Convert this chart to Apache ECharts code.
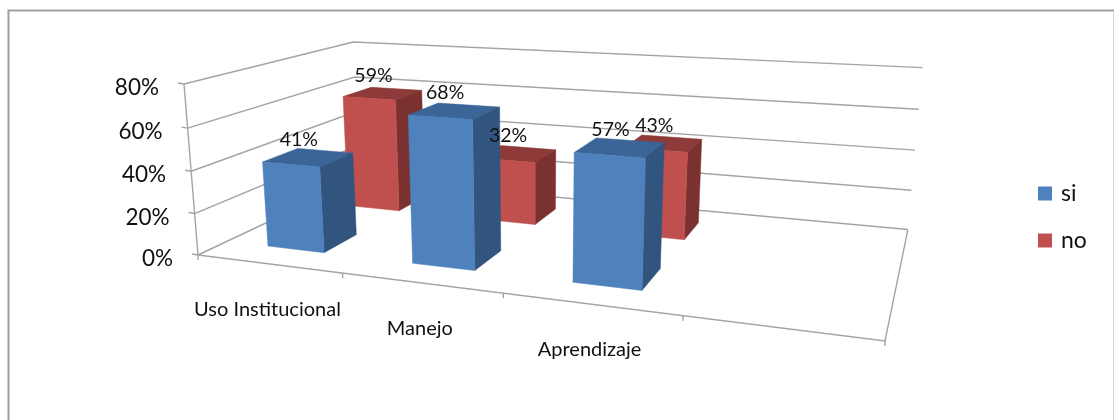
<!DOCTYPE html>
<html><head><meta charset="utf-8">
<style>html,body{margin:0;padding:0;background:#fff}#c{width:1114px;height:420px}</style>
<script src="https://cdn.jsdelivr.net/npm/echarts@6/dist/echarts.min.js"></script>
</head><body><div id="c"></div>
<script>
const categories = ['Uso Institucional', 'Manejo', 'Aprendizaje', ''];
const si = [41, 68, 57, null];
const no = [59, 32, 43, null];
const yTicks = [0, 20, 40, 60, 80];

// Projective map of the unit box onto the page
const A = [198, 255], X = [885, 341], Y = [359, 179], Z = [184, 84];
const a = 0.8, b = 1.26, c = 0.96;
function project(u, v, w) {
  const d = 1 + u * (a - 1) + v * (b - 1) + w * (c - 1);
  return [0, 1].map(i => (A[i] + u * (a * X[i] - A[i]) + v * (b * Y[i] - A[i]) + w * (c * Z[i] - A[i])) / d);
}
const GRID = { left: 100, top: 50, width: 800, height: 300 };
const FONT = 'Lato';
const LINE = { stroke: '#a4a4a4', lineWidth: 1.4, fill: null };
const barSpan = 0.4, rowCount = 2, catCount = categories.length;

function normalized(api, cat, val) {
  const p = api.coord([cat, val]);
  return [(p[0] - GRID.left) / GRID.width, (GRID.top + GRID.height - p[1]) / GRID.height];
}
function line(pts) { return { type: 'polyline', shape: { points: pts }, style: LINE, silent: true }; }
function text(x, y, t, size, align) {
  return { type: 'text', x, y, silent: true, style: { text: t, font: size + 'px ' + FONT, fill: '#111', align: align || 'center', verticalAlign: 'middle' } };
}
function poly(pts, fill) { return { type: 'polygon', shape: { points: pts }, style: { fill, stroke: fill, lineWidth: 0.5 }, silent: true }; }

function barItem(row, front, side, top) {
  return function (params, api) {
    const cat = api.value(0), val = api.value(1);
    if (val == null || isNaN(val)) return null;
    const [uc, wv] = normalized(api, cat, val);
    const hu = barSpan / 2 / catCount, vc = (row + 0.5) / rowCount, hv = barSpan / 2 / rowCount;
    const u0 = uc - hu, u1 = uc + hu, v0 = vc - hv, v1 = vc + hv;
    return { type: 'group', children: [
      poly([project(u0, v0, wv), project(u1, v0, wv), project(u1, v1, wv), project(u0, v1, wv)], top),
      poly([project(u1, v0, 0), project(u1, v1, 0), project(u1, v1, wv), project(u1, v0, wv)], side),
      poly([project(u0, v0, 0), project(u1, v0, 0), project(u1, v0, wv), project(u0, v0, wv)], front)
    ] };
  };
}
function labelItem(row) {
  return function (params, api) {
    const cat = api.value(0), val = api.value(1);
    if (val == null || isNaN(val)) return null;
    const [uc, wv] = normalized(api, cat, val);
    const p = project(uc, (row + 0.5) / rowCount, wv);
    return text(p[0] - 9.5, p[1] - 18, val + '%', 19.5);
  };
}
function frameTickItem(params, api) {
  const val = api.value(0);
  const wv = normalized(api, 0, val)[1];
  const p0 = project(0, 0, wv), p1 = project(0, 1, wv), p2 = project(1, 1, wv);
  return { type: 'group', children: [
    line([p0, p1, p2]),
    line([p0, [p0[0] - 6, p0[1] - 1]]),
    text(p0[0] - 25, p0[1] + 4, val + '%', 22.5, 'right')
  ] };
}
function catItem(params, api) {
  const i = api.value(0);
  const uEdge = i / catCount;
  const [uc] = normalized(api, i, 0);
  const e = project(uEdge, 0, 0), m = project(uc, 0, 0);
  const kids = [line([e, [e[0], e[1] + 5]])];
  if (categories[i]) kids.push(text(m[0] - 1, m[1] + 45.5, categories[i], 20));
  if (i === catCount - 1) {
    const last = project(1, 0, 0);
    kids.push(line([last, [last[0], last[1] + 5]]));
  }
  return { type: 'group', children: kids };
}
function floorItem() {
  return { type: 'group', children: [
    line([project(0, 0, 0), project(1, 0, 0), project(1, 1, 0)]),
    line([project(0, 0, 0), project(0, 0, 1)])
  ] };
}
const toPairs = arr => arr.map((v, i) => [i, v]);
const base = { type: 'custom', clip: false, silent: true, coordinateSystem: 'cartesian2d' };

echarts.init(document.getElementById('c'), null, { renderer: 'canvas' }).setOption({
  animation: false,
  backgroundColor: '#fff',
  grid: Object.assign({}, GRID),
  xAxis: { type: 'category', data: categories, show: false, boundaryGap: true },
  yAxis: { type: 'value', min: 0, max: 80, interval: 20, show: false },
  legend: {
    data: ['si', 'no'], orient: 'vertical', left: 1038, top: 182, itemWidth: 14, itemHeight: 14, itemGap: 24,
    icon: 'rect', selectedMode: false, padding: 0,
    textStyle: { fontFamily: FONT, fontSize: 23, color: '#111', padding: [6, 0, 0, 4] }
  },
  graphic: [
    { type: 'polyline', silent: true, shape: { points: [[8.5, 420], [8.5, 10.5], [1114, 10.5]] }, style: { stroke: '#a0a0a0', lineWidth: 2, fill: null } },
    { type: 'line', silent: true, shape: { x1: 1113.5, y1: 11, x2: 1113.5, y2: 420 }, style: { stroke: '#d4d4d4', lineWidth: 1 } }
  ],
  series: [
    Object.assign({}, base, { name: 'frame', data: yTicks.map(v => [v]), renderItem: frameTickItem, encode: { y: 0 }, z: 1 }),
    Object.assign({}, base, { name: 'floor', data: [[0]], renderItem: floorItem, encode: { x: 0 }, z: 1 }),
    Object.assign({}, base, { name: 'cats', data: categories.map((c, i) => [i]), renderItem: catItem, encode: { x: 0 }, z: 1 }),
    Object.assign({}, base, { name: 'no', data: toPairs(no), renderItem: barItem(1, '#C0504D', '#7B312F', '#8E3A38'), itemStyle: { color: '#C0504D' }, encode: { x: 0, y: 1 }, z: 2 }),
    Object.assign({}, base, { name: 'si', data: toPairs(si), renderItem: barItem(0, '#4F81BD', '#32557F', '#3B6597'), itemStyle: { color: '#4F81BD' }, encode: { x: 0, y: 1 }, z: 3 }),
    Object.assign({}, base, { name: 'siLabels', data: toPairs(si), renderItem: labelItem(0), encode: { x: 0, y: 1 }, z: 4 }),
    Object.assign({}, base, { name: 'noLabels', data: toPairs(no), renderItem: labelItem(1), encode: { x: 0, y: 1 }, z: 4 })
  ]
});
</script></body></html>
